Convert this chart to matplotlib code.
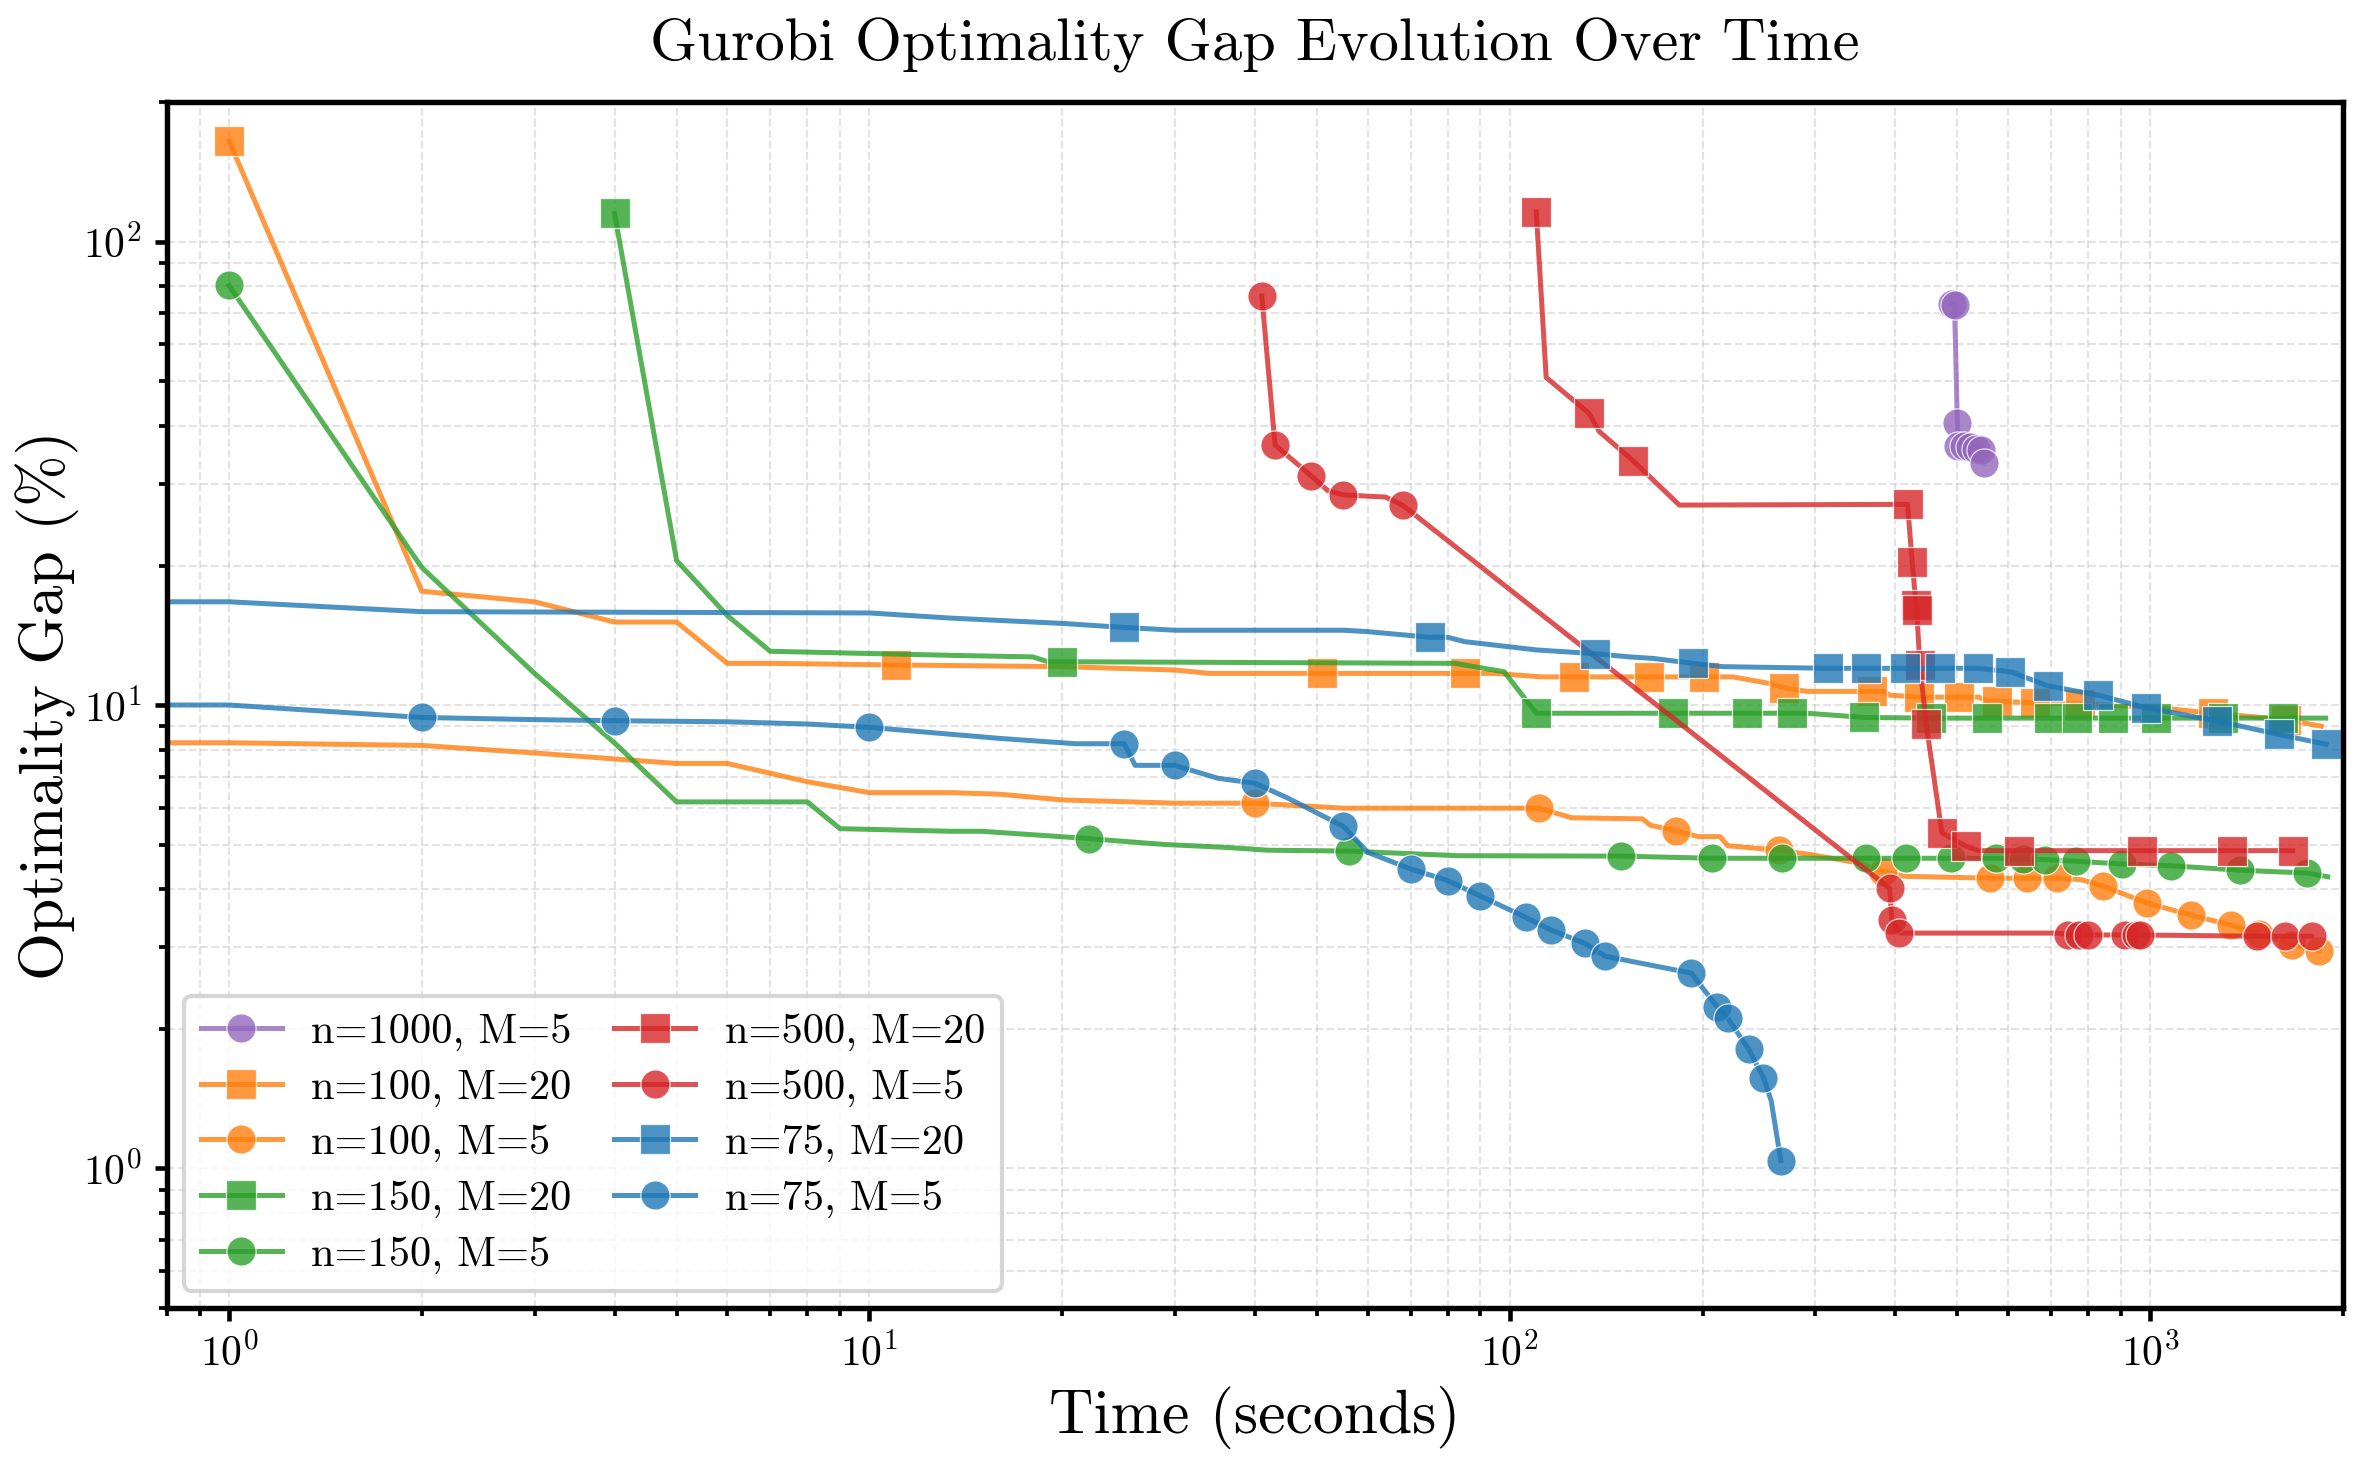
import numpy as np
import matplotlib
matplotlib.use("Agg")
from matplotlib import pyplot as plt

plt.rcParams['font.family'] = 'cmr10'
plt.rcParams['mathtext.fontset'] = 'cm'
plt.rcParams['axes.formatter.use_mathtext'] = True

# ---- data (time in s, gap in %) ----
t_1000_5 = [490, 495, 500, 502, 512, 523, 535, 545, 551]
g_1000_5 = [73.5, 72.8, 40.5, 36.3, 36.2, 36.0, 35.7, 35.5, 33.2]
m_1000_5 = [490, 495, 500, 502, 512, 523, 535, 545, 551]

t_100_20 = [1, 2, 3, 4, 5, 6, 7, 11, 20, 30, 34, 51, 85, 95, 112, 126, 165, 201, 223, 257,
            268, 291, 368, 383, 393, 436, 503, 540, 556, 577, 660, 778, 1000, 1255, 1630, 1850]
g_100_20 = [165, 17.6, 16.7, 15.1, 15.1, 12.3, 12.3, 12.2, 12.1, 11.9, 11.7, 11.7, 11.7, 11.7, 11.5,
            11.5, 11.5, 11.5, 11.5, 11.1, 10.9, 10.7, 10.7, 10.7, 10.5, 10.4, 10.4, 10.4, 10.2, 10.2,
            10.1, 10.06, 9.9, 9.6, 9.3, 9.0]
m_100_20 = [1, 11, 51, 85, 126, 165, 201, 268, 368, 436, 503, 577, 660, 778, 1255, 1630]

t_100_5 = [0, 1, 2, 3, 4, 5, 6, 8, 10, 13.4, 16, 20, 30, 40, 55, 111, 125, 161, 166, 182, 197,
           213, 219, 263, 294, 354, 383, 414, 562, 642, 716, 780, 844, 988, 1159, 1338, 1479,
           1667, 1836]
g_100_5 = [8.29, 8.29, 8.18, 7.88, 7.65, 7.48, 7.48, 6.83, 6.47, 6.47, 6.42, 6.24, 6.14, 6.14,
           5.99, 5.99, 5.71, 5.68, 5.5, 5.35, 5.2, 5.2, 4.97, 4.86, 4.76, 4.55, 4.37, 4.27, 4.23,
           4.23, 4.23, 4.2, 4.07, 3.74, 3.52, 3.35, 3.2, 3.04, 2.95]
m_100_5 = [40, 111, 182, 263, 383, 562, 642, 716, 844, 988, 1159, 1338, 1479, 1667, 1836]

t_150_20 = [4, 5, 6, 7, 13.4, 18, 19, 20, 82, 98, 110, 180, 235, 276, 291, 358, 454, 557, 695,
            770, 876, 1020, 1300, 1615, 1880]
g_150_20 = [115, 20.5, 15.6, 13.06, 12.8, 12.7, 12.4, 12.4, 12.3, 11.8, 9.6, 9.6, 9.6, 9.6, 9.6,
            9.4, 9.37, 9.37, 9.37, 9.37, 9.37, 9.37, 9.37, 9.37, 9.37]
m_150_20 = [4, 20, 110, 180, 235, 276, 358, 454, 557, 695, 770, 876, 1020, 1300, 1615]

t_150_5 = [1, 2, 3, 4, 5, 8, 9, 13.4, 15, 22, 24, 29, 36, 42, 56, 83, 149, 207, 266, 360, 416,
           488, 574, 633, 686, 766, 905, 1076, 1383, 1757, 1894]
g_150_5 = [80.4, 19.8, 11.7, 8.28, 6.18, 6.18, 5.41, 5.34, 5.34, 5.15, 5.1, 5.0, 4.93, 4.86, 4.84,
           4.73, 4.72, 4.67, 4.67, 4.67, 4.67, 4.67, 4.67, 4.65, 4.64, 4.6, 4.54, 4.50, 4.40, 4.34,
           4.26]
m_150_5 = [1, 22, 56, 149, 207, 266, 360, 416, 488, 574, 633, 686, 766, 905, 1076, 1383, 1757]

t_500_20 = [110, 114, 133, 138, 156, 184, 418, 425, 431, 432, 437, 447, 473, 515, 540, 623, 970,
            1343, 1669]
g_500_20 = [115.8, 50.9, 42.6, 38.9, 33.6, 27.0, 27.1, 20.4, 16.4, 16.0, 12.2, 9.1, 5.3, 4.96,
            4.85, 4.85, 4.85, 4.85, 4.85]
m_500_20 = [110, 133, 156, 418, 425, 431, 432, 437, 447, 473, 515, 623, 970, 1343, 1669]

t_500_5 = [41, 43, 49, 52, 55, 64, 68, 392, 395, 406, 720, 745, 775, 800, 915, 950, 965, 1466,
           1626, 1788]
g_500_5 = [76.3, 36.4, 31.2, 29.0, 28.4, 28.1, 27.0, 4.02, 3.44, 3.22, 3.22, 3.19, 3.19, 3.19,
           3.19, 3.19, 3.19, 3.17, 3.17, 3.17]
m_500_5 = [41, 43, 49, 55, 68, 392, 395, 406, 745, 775, 800, 915, 950, 965, 1466, 1626, 1788]

t_75_20 = [0, 1, 2, 10, 13.4, 20, 25, 30, 55, 60, 75, 80, 85, 110, 136, 154, 168, 193, 215, 314,
           360, 414, 469, 538, 605, 692, 830, 985, 1274, 1588, 1882]
g_75_20 = [16.7, 16.7, 15.9, 15.8, 15.4, 15.0, 14.7, 14.5, 14.5, 14.4, 14.0, 14.0, 13.7, 13.15,
           12.9, 12.7, 12.6, 12.3, 12.1, 12.0, 12.0, 12.0, 12.0, 12.0, 11.8, 11.0, 10.5, 9.87,
           9.23, 8.64, 8.23]
m_75_20 = [25, 75, 136, 193, 314, 360, 414, 469, 538, 605, 692, 830, 985, 1274, 1588, 1882]

t_75_5 = [0, 1, 2, 3, 4, 6, 8, 10, 16, 21, 25, 26, 30, 35, 40, 45, 55, 60, 70, 80, 90, 106, 116,
          131, 141, 192, 211, 219, 236, 249, 256, 265]
g_75_5 = [10.0, 10.0, 9.4, 9.3, 9.25, 9.2, 9.1, 8.95, 8.47, 8.25, 8.25, 7.41, 7.41, 6.95, 6.78,
          6.3, 5.47, 4.81, 4.43, 4.18, 3.87, 3.48, 3.27, 3.06, 2.87, 2.64, 2.23, 2.11, 1.81, 1.57,
          1.40, 1.04]
m_75_5 = [2, 4, 10, 25, 30, 40, 55, 70, 80, 90, 106, 116, 131, 141, 192, 211, 219, 236, 249, 265]

runs = [
    ('n=1000, M=5', t_1000_5, g_1000_5, m_1000_5, 'tab:purple', 'o'),
    ('n=100, M=20', t_100_20, g_100_20, m_100_20, 'tab:orange', 's'),
    ('n=100, M=5', t_100_5, g_100_5, m_100_5, 'tab:orange', 'o'),
    ('n=150, M=20', t_150_20, g_150_20, m_150_20, 'tab:green', 's'),
    ('n=150, M=5', t_150_5, g_150_5, m_150_5, 'tab:green', 'o'),
    ('n=500, M=20', t_500_20, g_500_20, m_500_20, 'tab:red', 's'),
    ('n=500, M=5', t_500_5, g_500_5, m_500_5, 'tab:red', 'o'),
    ('n=75, M=20', t_75_20, g_75_20, m_75_20, 'tab:blue', 's'),
    ('n=75, M=5', t_75_5, g_75_5, m_75_5, 'tab:blue', 'o'),
]

fig = plt.figure(figsize=(7.86, 4.86), dpi=300)
ax = fig.add_axes([0.0708, 0.1029, 0.9228, 0.8271])

for label, t, g, marks, color, mk in runs:
    idx = [t.index(m) for m in marks]
    ax.plot(t, g, color=color, marker=mk, markevery=idx, markersize=7.0, linewidth=1.2,
            alpha=0.8, markeredgecolor='white', markeredgewidth=0.3, label=label)

ax.set_xscale('log')
ax.set_yscale('log')
ax.set_xlim(0.8, 2000)
ax.set_ylim(0.5, 200)

ax.grid(True, which='both', linestyle='--', linewidth=0.5, color='#b0b0b0', alpha=0.35)
for s in ax.spines.values():
    s.set_linewidth(1.3)
ax.tick_params(which='major', length=3.0, width=1.1, labelsize=10, pad=3)
ax.tick_params(which='minor', length=2.0, width=0.9)

ax.set_xlabel('Time (seconds)', fontsize=14.8, labelpad=3)
ax.set_ylabel('Optimality Gap (%)', fontsize=14.8, labelpad=1)
ax.set_title('Gurobi Optimality Gap Evolution Over Time', fontsize=14.5, pad=10)

ax.legend(loc='lower left', ncol=2, fontsize=10.2, framealpha=0.8, edgecolor='#cccccc',
          handlelength=1.9, handletextpad=0.7, labelspacing=0.42, borderaxespad=0.4,
          columnspacing=1.0)

fig.savefig('out.png', dpi=300)
